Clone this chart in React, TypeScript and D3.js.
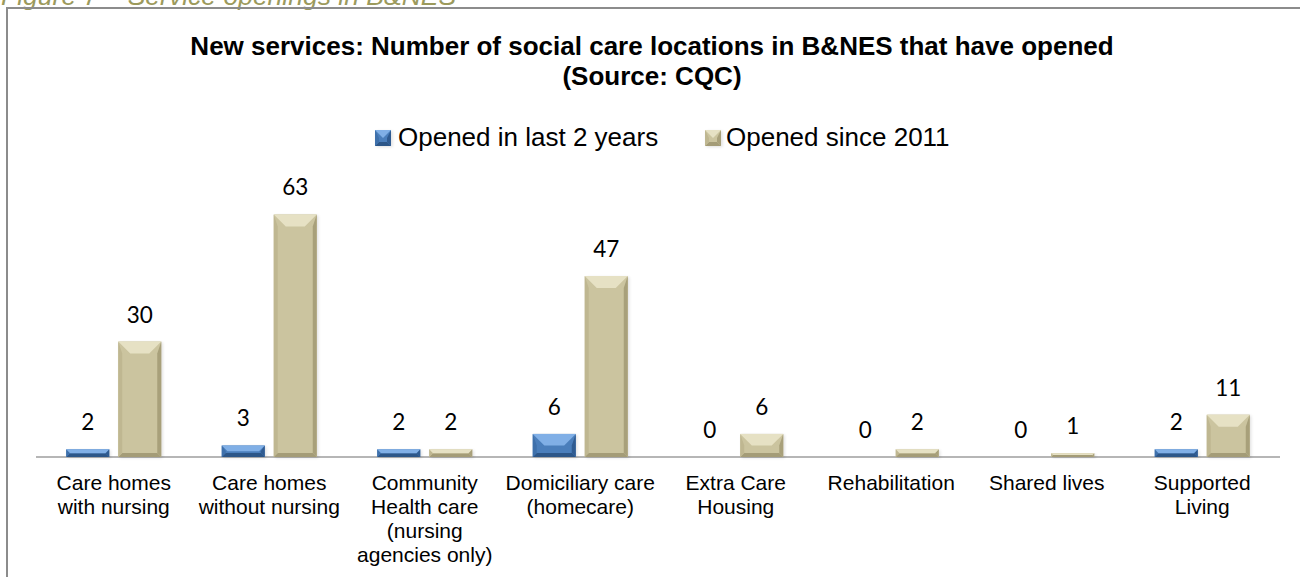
import React from "react";
import * as d3 from "d3";

const categories = [
  "Care homes\nwith nursing",
  "Care homes\nwithout nursing",
  "Community\nHealth care\n(nursing\nagencies only)",
  "Domiciliary care\n(homecare)",
  "Extra Care\nHousing",
  "Rehabilitation",
  "Shared lives",
  "Supported\nLiving",
];
const seriesNames = ["Opened in last 2 years", "Opened since 2011"];
const openedLast2Years = [2, 3, 2, 6, 0, 0, 0, 2];
const openedSince2011 = [30, 63, 2, 47, 6, 2, 1, 11];
const titleLines = [
  "New services: Number of social care locations in B&NES that have opened",
  "(Source: CQC)",
];
const caption = "Figure 7 \u2013 Service openings in B&NES";

const W = 1300;
const H = 577;
const baseY = 457;
const axisX0 = 36;
const axisX1 = 1280;

const palettes = [
  { main: "#4a7ebb", top: "#80afe6", left: "#3e70ab", right: "#2f5b91", bottom: "#2c5688" },
  { main: "#cbc49f", top: "#e6e1c4", left: "#bfb791", right: "#a8a07a", bottom: "#a49c77" },
];

function BevelBar({ x0, x1, y0, y1, pal }: any) {
  const h = y1 - y0;
  const w = x1 - x0;
  if (h <= 0) return null;
  const b = Math.min(12, h / 2, w / 2);
  const s = Math.min(4, h / 2);
  const pts = (a: number[][]) => a.map((p) => p.join(",")).join(" ");
  return (
    <g>
      <rect x={x0 + 1.5} y={y0 + 1} width={w} height={h} fill="#000" opacity={0.12} filter="url(#soft)" />
      <rect x={x0} y={y0} width={w} height={h} fill={pal.main} />
      <polygon points={pts([[x0, y1], [x1, y1], [x1 - s, y1 - s], [x0 + s, y1 - s]])} fill={pal.bottom} />
      <polygon points={pts([[x0, y0], [x0 + s, y0 + b], [x0 + s, y1 - s], [x0, y1]])} fill={pal.left} />
      <polygon points={pts([[x1, y0], [x1 - s, y0 + b], [x1 - s, y1 - s], [x1, y1]])} fill={pal.right} />
      <polygon points={pts([[x0, y0], [x1, y0], [x1 - b, y0 + b], [x0 + b, y0 + b]])} fill={pal.top} />
    </g>
  );
}

export default function App() {
  const x0 = d3.scaleBand<string>().domain(categories).range([axisX0, axisX1]).padding(0);
  const step = x0.bandwidth();
  const groupW = 95;
  const x1 = d3
    .scaleBand<string>()
    .domain(seriesNames)
    .range([(step - groupW) / 2, (step + groupW) / 2])
    .paddingInner(9 / 52);
  const y = d3.scaleLinear().domain([0, 70]).range([baseY, baseY - 70 * 3.85]);
  const data = [openedLast2Years, openedSince2011];

  const legendItems = [
    { mx: 375, tx: 398 },
    { mx: 705, tx: 726 },
  ];

  return (
    <svg width={W} height={H} style={{ position: "absolute", left: 0, top: 0, background: "#fff" }}>
      <defs>
        <filter id="soft" x="-20%" y="-20%" width="140%" height="140%">
          <feGaussianBlur stdDeviation="1.5" />
        </filter>
      </defs>
      <rect x={0} y={0} width={W} height={H} fill="#fff" />
      <text
        x={1}
        y={5}
        fontFamily="Liberation Sans, Arial, sans-serif"
        fontStyle="italic"
        fontSize={26.5}
        fill="#9c9a5c"
      >
        {caption}
      </text>
      <rect x={7} y={8} width={W + 20} height={H + 20} fill="none" stroke="#8c8c8c" strokeWidth={2} />

      {titleLines.map((t, i) => (
        <text
          key={i}
          x={652}
          y={55 + i * 30}
          textAnchor="middle"
          fontFamily="Liberation Sans, Arial, sans-serif"
          fontWeight="bold"
          fontSize={26}
          fill="#000"
        >
          {t}
        </text>
      ))}

      {seriesNames.map((s, i) => (
        <g key={s}>
          <BevelBar
            x0={legendItems[i].mx}
            x1={legendItems[i].mx + 16}
            y0={130}
            y1={146}
            pal={palettes[i]}
          />
          <text
            x={legendItems[i].tx}
            y={146}
            fontFamily="Liberation Sans, Arial, sans-serif"
            fontSize={26}
            fill="#000"
          >
            {s}
          </text>
        </g>
      ))}

      <line x1={axisX0} x2={axisX1} y1={baseY} y2={baseY} stroke="#9e9e9e" strokeWidth={1.5} />

      {categories.map((c, ci) => (
        <g key={c} transform={`translate(${x0(c)},0)`}>
          {seriesNames.map((s, si) => {
            const v = data[si][ci];
            const bx = x1(s)!;
            const bw = x1.bandwidth();
            return (
              <g key={s}>
                <BevelBar x0={bx} x1={bx + bw} y0={y(v)} y1={baseY} pal={palettes[si]} />
                <text
                  x={bx + bw / 2}
                  y={y(v) - 19}
                  textAnchor="middle"
                  fontFamily="Lato, Carlito, sans-serif"
                  fontSize={22.5}
                  fill="#000"
                >
                  {v}
                </text>
              </g>
            );
          })}
          <text
            textAnchor="middle"
            fontFamily="Liberation Sans, Arial, sans-serif"
            fontSize={21}
            fill="#000"
          >
            {c.split("\n").map((ln, li) => (
              <tspan key={li} x={step / 2} y={490 + li * 24}>
                {ln}
              </tspan>
            ))}
          </text>
        </g>
      ))}
    </svg>
  );
}
